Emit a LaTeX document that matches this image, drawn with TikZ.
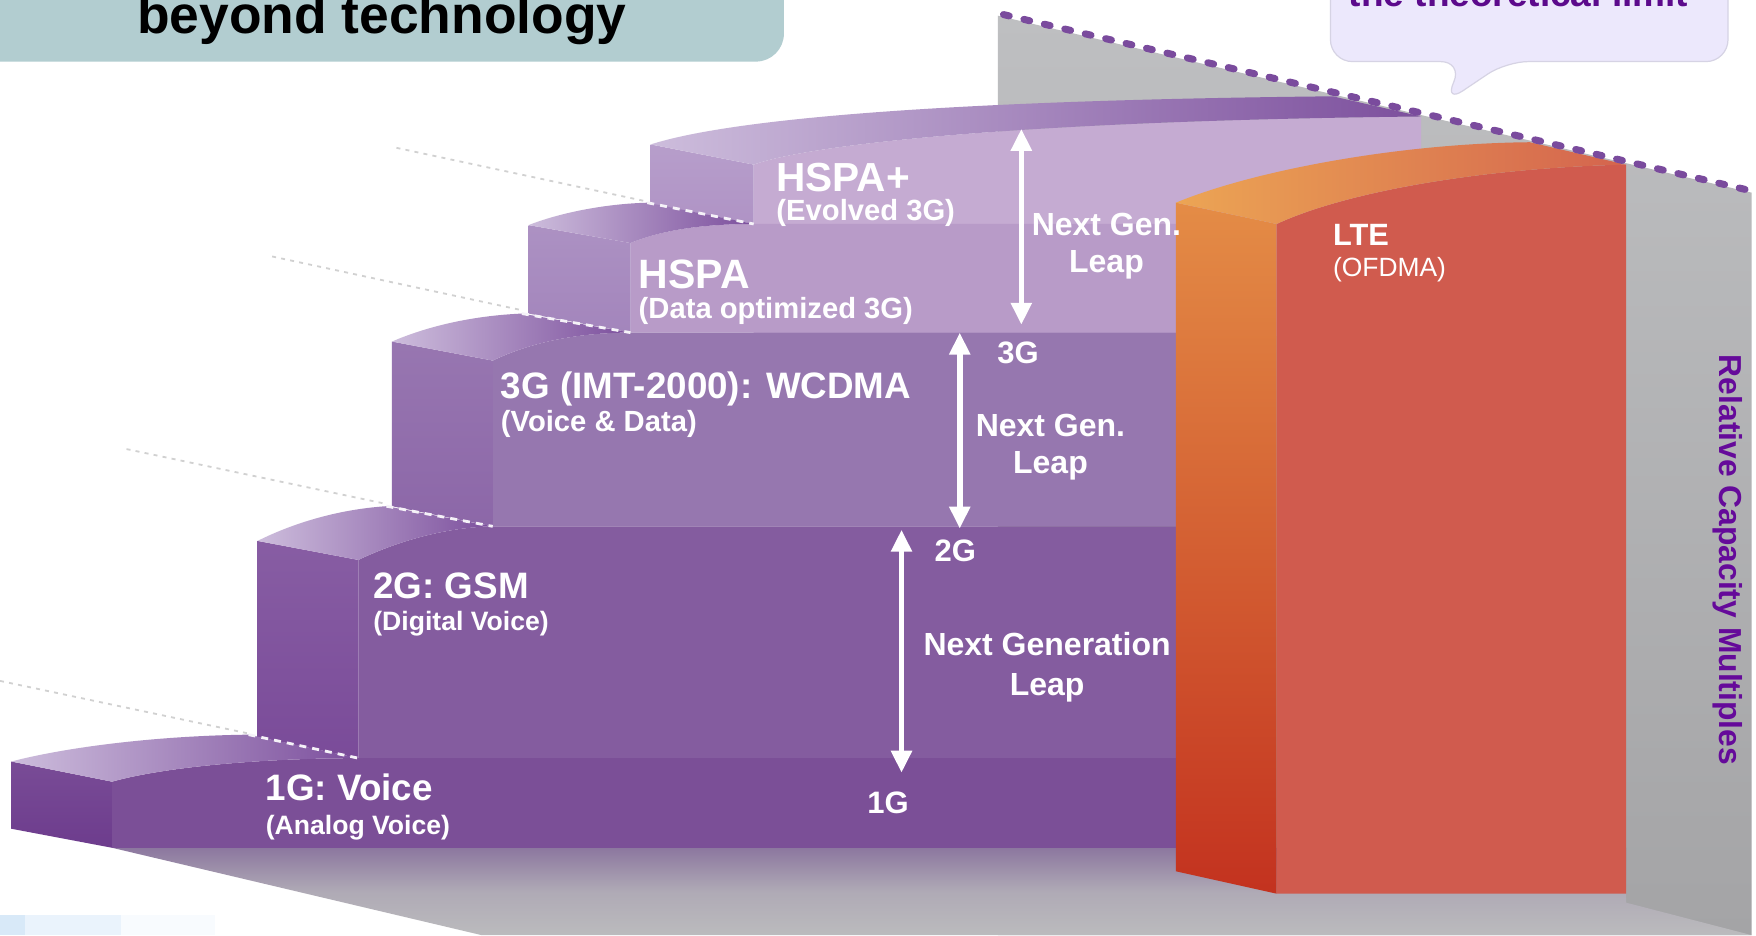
\documentclass[tikz,border=0pt]{standalone}
\usepackage{fontspec}
\setmainfont{Liberation Sans}
\usetikzlibrary{arrows.meta}
\definecolor{titlebg}{HTML}{B2CDD0}
\definecolor{bubblebg}{HTML}{ECE8FC}
\definecolor{bubbleline}{HTML}{D6D3E4}
\definecolor{deeppurple}{HTML}{5C0A8C}
\definecolor{axispurple}{HTML}{650A9A}
\definecolor{dotpurple}{HTML}{7A4B9D}
\definecolor{walltop}{HTML}{BEBFC1}
\definecolor{wallbot}{HTML}{A4A4A6}
\definecolor{floortop}{HTML}{8C779F}
\definecolor{floorbot}{HTML}{BBBBBD}
\definecolor{frontA}{HTML}{7B4F97}
\definecolor{sideA}{HTML}{6D3C8D}
\definecolor{frontB}{HTML}{845C9F}
\definecolor{sideB}{HTML}{7A4B99}
\definecolor{frontC}{HTML}{9677AF}
\definecolor{sideC}{HTML}{8C67A8}
\definecolor{frontD}{HTML}{B89BC8}
\definecolor{sideD}{HTML}{A385BC}
\definecolor{frontE}{HTML}{C5ABD2}
\definecolor{sideE}{HTML}{AF93C5}
\definecolor{topL}{HTML}{CDBDDC}
\definecolor{topR}{HTML}{7C4F9D}
\definecolor{lteside1}{HTML}{E48C46}
\definecolor{lteside2}{HTML}{C3321F}
\definecolor{ltefront}{HTML}{D05B4E}
\definecolor{ltetopL}{HTML}{ECA554}
\definecolor{ltetopR}{HTML}{D4644E}
\definecolor{paleA}{HTML}{D8E9F8}
\definecolor{paleB}{HTML}{EAF3FC}
\definecolor{paleC}{HTML}{F8FBFE}
\tikzset{
 ghost/.style={draw=black!18, line width=0.9pt, dash pattern=on 2pt off 2.6pt},
 backedge/.style={draw=white!80!topL, line width=1.4pt, dash pattern=on 3.5pt off 3pt},
 stepname/.style={text=white, font=\fontsize{18.4}{22}\selectfont\bfseries, anchor=base west, inner sep=0pt},
 stepsub/.style={text=white, font=\fontsize{13.3}{16}\selectfont\bfseries, anchor=base west, inner sep=0pt},
 leapline/.style={draw=white, line width=2.8pt, {Triangle[width=10pt,length=11pt]}-{Triangle[width=10pt,length=11pt]}},
 leaplbl/.style={text=white, font=\fontsize{16}{20}\selectfont\bfseries, anchor=base, inner sep=0pt},
 genlbl/.style={text=white, font=\fontsize{15.5}{18}\selectfont\bfseries, inner sep=0pt},
}
\begin{document}
\begin{tikzpicture}[x=0.56pt,y=-0.56pt]
\useasboundingbox (0,0) rectangle (1568,835);
\clip (0,0) rectangle (1568,835);
\fill[white] (0,0) rectangle (1568,835);
% wall and floor
\path[top color=walltop, bottom color=wallbot] (891,14) -- (1564,172) -- (1564,835) -- (891,835) -- cycle;
\path[top color=floortop, bottom color=floorbot, middle color=floorbot!75!floortop] (100,757) -- (1452,757) -- (1452,806) -- (1564,835) -- (430,835) -- cycle;
% ghost lines
\draw[ghost] (354,132) -- (578,180);
\draw[ghost] (243,229) -- (466,277);
\draw[ghost] (113,401) -- (345,450);
\draw[ghost] (0,608) -- (222,655);
% HSPA+
\fill[frontE] (673,147) .. controls (720,130) and (900,108) .. (1269,104) -- (1269,300) -- (673,300) -- cycle;
\path[top color=sideE!90!white, bottom color=sideE] (581,129) -- (673,147) -- (673,200) -- (581,182) -- cycle;
\path[left color=topL, right color=topR] (581,129) .. controls (640,110) and (800,90) .. (1190,86) -- (1269,104) .. controls (900,108) and (720,130) .. (673,147) -- cycle;
% HSPA
\fill[frontD] (563,217) .. controls (590,206) and (625,200) .. (673,200) -- (1100,200) -- (1100,297) -- (563,297) -- cycle;
\path[top color=sideD!90!white, bottom color=sideD] (472,201) -- (563,217) -- (563,297) -- (472,280) -- cycle;
\path[left color=topL, right color=topR] (472,201) .. controls (500,190) and (540,182) .. (578,181) -- (673,200) .. controls (625,200) and (590,206) .. (563,217) -- cycle;
\draw[backedge] (578,181) -- (673,200);
% 3G
\fill[frontC] (440,322) .. controls (465,310) and (505,297) .. (563,297) -- (1100,297) -- (1100,470) -- (440,470) -- cycle;
\path[top color=sideC!90!white, bottom color=sideC] (350,305) -- (440,322) -- (440,470) -- (350,452) -- cycle;
\path[left color=topL, right color=topR] (350,305) .. controls (380,292) and (420,282) .. (466,280) -- (563,297) .. controls (505,297) and (465,310) .. (440,322) -- cycle;
\draw[backedge] (466,280) -- (563,297);
% 2G
\fill[frontB] (320,500) .. controls (345,488) and (390,471) .. (440,470) -- (1100,470) -- (1100,677) -- (320,677) -- cycle;
\path[top color=sideB!90!white, bottom color=sideB] (230,483) -- (320,500) -- (320,677) -- (230,658) -- cycle;
\path[left color=topL, right color=topR] (230,483) .. controls (260,468) and (300,455) .. (345,452) -- (440,470) .. controls (390,471) and (345,488) .. (320,500) -- cycle;
\draw[backedge] (345,452) -- (440,470);
% 1G
\fill[frontA] (100,698) .. controls (150,684) and (240,677) .. (320,677) -- (1100,677) -- (1100,757) -- (100,757) -- cycle;
\path[top color=sideA!92!white, bottom color=sideA] (10,680) -- (100,698) -- (100,757) -- (10,740) -- cycle;
\path[left color=topL, right color=topR] (10,680) .. controls (60,667) and (140,657) .. (222,656) -- (320,677) .. controls (240,677) and (150,684) .. (100,698) -- cycle;
\draw[backedge] (222,656) -- (320,677);
% LTE
\path[top color=lteside1, bottom color=lteside2] (1050,181) -- (1140,200) -- (1140,798) -- (1050,778) -- cycle;
\fill[ltefront] (1140,200) .. controls (1200,172) and (1320,150) .. (1452,147) -- (1452,798) -- (1140,798) -- cycle;
\path[left color=ltetopL, right color=ltetopR] (1050,181) .. controls (1120,152) and (1250,128) .. (1366,127) -- (1452,147) .. controls (1320,150) and (1200,172) .. (1140,200) -- cycle;
% theoretical limit dotted line
\draw[dotpurple, line width=3.5pt, line cap=round, dash pattern=on 3pt off 7.5pt] (896,13) -- (1562,170);
% title box
\path[fill=titlebg, rounded corners=14pt] (-30,-30) rectangle (700,55);
\node[anchor=base, inner sep=0pt, font=\fontsize{26.7}{30}\selectfont\bfseries] (title) at (341,30) {beyond technology};
% bubble
\path[fill=bubblebg, draw=bubbleline, line width=0.6pt, rounded corners=11pt] (1188,-30) -- (1543,-30) -- (1543,55) -- (1345,55) -- (1290,92) -- (1306,55) -- (1188,55) -- cycle;
\node[anchor=base, inner sep=0pt, text=deeppurple, font=\fontsize{18.5}{22}\selectfont\bfseries] (limit) at (1356,6) {the theoretical limit};
% pale strip
\fill[paleA] (0,817) rectangle (22,835);
\fill[paleB] (22,817) rectangle (108,835);
\fill[paleC] (108,817) rectangle (192,835);
% step labels
\node[stepname] (g1) at (237,715) {1G: Voice};
\node[stepsub] (g1s) at (237,745) {(Analog Voice)};
\node[stepname] (g2) at (333,534) {2G: GSM};
\node[stepsub] (g2s) at (333,563) {(Digital Voice)};
\node[stepname] (g3) at (447,356) {3G (IMT-2000): WCDMA};
\node[stepsub, font=\fontsize{14.6}{17}\selectfont\bfseries] (g3s) at (447,385) {(Voice \& Data)};
\node[stepname, font=\fontsize{20.5}{24}\selectfont\bfseries] (hs) at (570,258) {HSPA};
\node[stepsub, font=\fontsize{14.6}{17}\selectfont\bfseries] (hss) at (570,284) {(Data optimized 3G)};
\node[stepname, font=\fontsize{20.3}{24}\selectfont\bfseries] (hsp) at (693,171) {HSPA+};
\node[stepsub, font=\fontsize{14.6}{17}\selectfont\bfseries] (hsps) at (693,197) {(Evolved 3G)};
\node[stepname, font=\fontsize{15.4}{18}\selectfont\bfseries] (lte) at (1190,219) {LTE};
\node[stepsub, font=\fontsize{13.2}{16}\selectfont] (ltes) at (1190,247) {(OFDMA)};
% leap arrows
\coordinate (a1t) at (805,473); \coordinate (a1b) at (805,690);
\coordinate (a2t) at (857,297); \coordinate (a2b) at (857,472);
\coordinate (a3t) at (912,115); \coordinate (a3b) at (912,290);
\draw[leapline] (a1t) -- (a1b);
\draw[leapline] (a2t) -- (a2b);
\draw[leapline] (a3t) -- (a3b);
\node[genlbl] (l1g) at (793,717) {1G};
\node[genlbl] (l2g) at (853,492) {2G};
\node[genlbl] (l3g) at (909,315) {3G};
\node[leaplbl] (lp1a) at (935,585) {Next Generation};
\node[leaplbl] (lp1b) at (935,621) {Leap};
\node[leaplbl] (lp2a) at (938,390) {Next Gen.};
\node[leaplbl] (lp2b) at (938,423) {Leap};
\node[leaplbl] (lp3a) at (988,210) {Next Gen.};
\node[leaplbl] (lp3b) at (988,243) {Leap};
% axis label
\node[rotate=-90, text=axispurple, font=\fontsize{15.9}{18}\selectfont\bfseries, inner sep=0pt] (rcm) at (1543,500) {Relative Capacity Multiples};
\end{tikzpicture}
\end{document}
